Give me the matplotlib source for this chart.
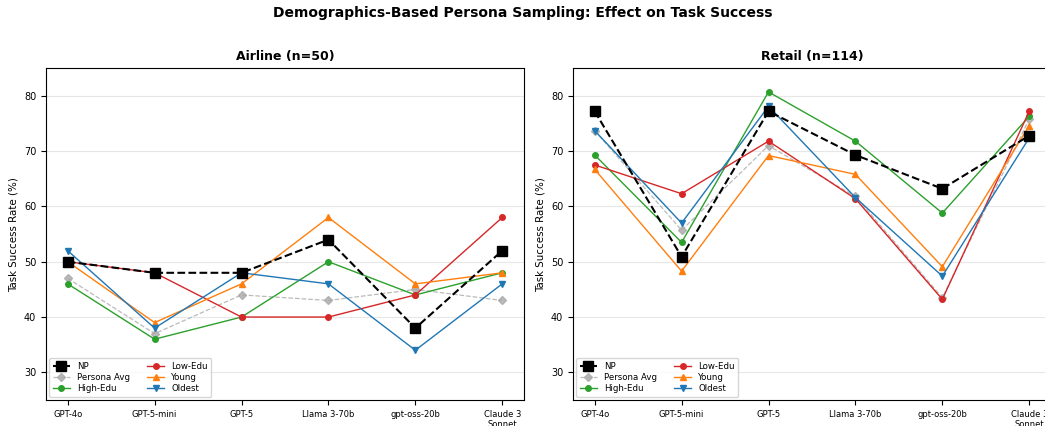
import matplotlib
matplotlib.use("Agg")
import matplotlib.pyplot as plt

models = ["GPT-4o", "GPT-5-mini", "GPT-5", "Llama 3-70b", "gpt-oss-20b", "Claude 3\nSonnet"]

airline_np = [50, 48, 48, 54, 38, 52]
airline_avg = [47, 37, 44, 43, 45, 43]
airline_high_edu = [46, 36, 40, 50, 44, 48]
airline_low_edu = [50, 48, 40, 40, 44, 58]
airline_young = [50, 39, 46, 58, 46, 48]
airline_oldest = [52, 38, 48, 46, 34, 46]

retail_np = [77.2, 50.9, 77.2, 69.3, 63.2, 72.8]
retail_avg = [73.7, 55.7, 71.0, 61.8, 43.5, 75.8]
retail_high_edu = [69.3, 53.5, 80.7, 71.8, 58.8, 76.3]
retail_low_edu = [67.5, 62.3, 71.8, 61.4, 43.2, 77.2]
retail_young = [66.7, 48.3, 69.2, 65.8, 49.1, 74.6]
retail_oldest = [73.7, 57.0, 78.1, 61.6, 47.4, 72.4]


def draw_panel(ax, title, np_vals, avg, high_edu, low_edu, young, oldest):
    x = list(range(len(models)))
    ax.plot(x, np_vals, color="black", linestyle="--", linewidth=1.5,
            marker="s", markersize=6.5, label="NP", zorder=5)
    ax.plot(x, avg, color="darkgray", linestyle="--", linewidth=0.9,
            marker="D", markersize=4, alpha=0.8, label="Persona Avg")
    ax.plot(x, high_edu, color="#2ca02c", linewidth=1.0, marker="o",
            markersize=4, label="High-Edu")
    ax.plot(x, low_edu, color="#d62728", linewidth=1.0, marker="o",
            markersize=4, label="Low-Edu")
    ax.plot(x, young, color="#ff7f0e", linewidth=1.0, marker="^",
            markersize=4, label="Young")
    ax.plot(x, oldest, color="#1f77b4", linewidth=1.0, marker="v",
            markersize=4, label="Oldest")

    ax.set_title(title, fontsize=9, fontweight="bold")
    ax.set_xticks(x)
    ax.set_xticklabels(models, fontsize=6)
    ax.tick_params(axis="y", labelsize=7)
    ax.set_ylabel("Task Success Rate (%)", fontsize=7.4)
    ax.set_ylim(25, 85)
    ax.grid(axis="y", alpha=0.3)
    ax.legend(loc="lower left", ncol=2, fontsize=6.2, labelspacing=0.25,
              borderaxespad=0.4)


fig = plt.figure(figsize=(10.45, 4.26), dpi=100)
ax1 = fig.add_axes([0.044, 0.061, 0.4574, 0.779])
ax2 = fig.add_axes([0.5483, 0.061, 0.4574, 0.779])

draw_panel(ax1, "Airline (n=50)", airline_np, airline_avg, airline_high_edu,
           airline_low_edu, airline_young, airline_oldest)
draw_panel(ax2, "Retail (n=114)", retail_np, retail_avg, retail_high_edu,
           retail_low_edu, retail_young, retail_oldest)

fig.suptitle("Demographics-Based Persona Sampling: Effect on Task Success",
             fontsize=10, fontweight="bold", y=0.985)

fig.savefig("out.png", dpi=100)
